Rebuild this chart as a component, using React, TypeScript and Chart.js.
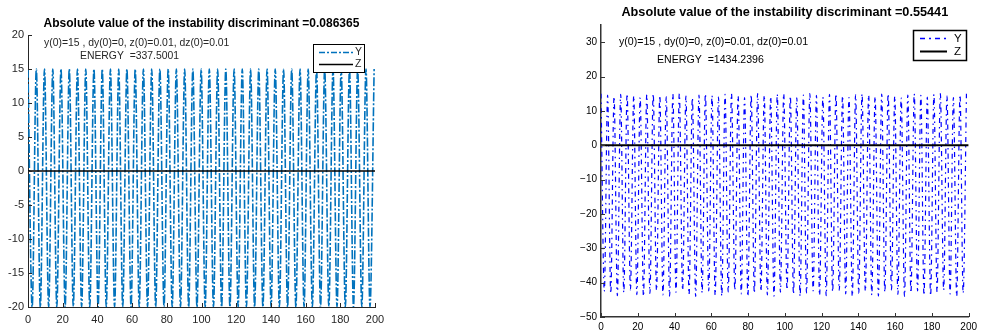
import React, { useEffect, useRef } from 'react';
import { Chart, registerables } from 'chart.js';

Chart.register(...registerables);

// ---------- data ----------
const xTickValues = [0, 20, 40, 60, 80, 100, 120, 140, 160, 180, 200];
const leftYTicks = [-20, -15, -10, -5, 0, 5, 10, 15, 20];
const rightYTicks = [-50, -40, -30, -20, -10, 0, 10, 20, 30];

// Left panel: Y(t) extrema (times of maxima / minima) and their values
const leftPeakX = [0, 4.8, 9.5, 14.3, 19, 23.8, 28.5, 33.3, 38, 42.8, 47.5, 52.3, 57, 61.8, 66.5, 71.3, 76, 80.8, 85.5, 90.3, 95, 99.8, 104.5, 109.3, 114, 118.8, 123.5, 128.3, 133, 137.8, 142.5, 147.3, 152, 156.8, 161.5, 166.3, 171, 175.8, 180.5, 185.3, 190, 194.8, 199.5];
const leftTroughX = [2.4, 7.1, 11.9, 16.6, 21.4, 26.1, 30.9, 35.6, 40.4, 45.1, 49.9, 54.6, 59.4, 64.1, 68.9, 73.6, 78.4, 83.1, 87.9, 92.6, 97.4, 102.1, 106.9, 111.6, 116.4, 121.1, 125.9, 130.6, 135.4, 140.1, 144.9, 149.6, 154.4, 159.1, 163.9, 168.6, 173.4, 178.1, 182.9, 187.6, 192.4, 197.1];
const leftPeakValue = 15;
const leftTroughValue = -20;

// Right panel: Y(t) extrema
const rightPeakX = [0, 3.6, 7.1, 10.7, 14.2, 17.8, 21.3, 24.9, 28.4, 32, 35.5, 39.1, 42.6, 46.2, 49.7, 53.3, 56.8, 60.4, 63.9, 67.5, 71, 74.6, 78.1, 81.7, 85.2, 88.8, 92.3, 95.9, 99.4, 103, 106.5, 110.1, 113.6, 117.2, 120.7, 124.3, 127.8, 131.4, 134.9, 138.5, 142, 145.6, 149.1, 152.7, 156.2, 159.8, 163.3, 166.9, 170.4, 174, 177.5, 181.1, 184.6, 188.2, 191.7, 195.3, 198.8];
const rightPeakY = [15, 14.6, 14.2, 14.8, 15, 14.4, 13.9, 14.7, 15, 14.5, 14.1, 14.9, 15, 14.3, 13.8, 14.6, 15, 14.5, 14, 14.8, 15, 14.4, 13.9, 14.7, 15, 14.6, 14.1, 14.9, 15, 14.3, 13.8, 14.6, 15, 14.5, 14, 14.8, 15, 14.4, 13.9, 14.7, 15, 14.6, 14.2, 14.9, 15, 14.3, 13.8, 14.6, 15, 14.5, 14, 14.8, 15, 14.4, 13.9, 14.7, 15];
const rightTroughX = [1.8, 5.3, 8.9, 12.4, 16, 19.5, 23.1, 26.6, 30.2, 33.7, 37.3, 40.8, 44.4, 47.9, 51.5, 55, 58.6, 62.1, 65.7, 69.2, 72.8, 76.3, 79.9, 83.4, 87, 90.5, 94.1, 97.6, 101.2, 104.7, 108.3, 111.8, 115.4, 118.9, 122.5, 126, 129.6, 133.1, 136.7, 140.2, 143.8, 147.3, 150.9, 154.4, 158, 161.5, 165.1, 168.6, 172.2, 175.7, 179.3, 182.8, 186.4, 189.9, 193.5, 197];
const rightTroughY = [-42.5, -43.2, -43.8, -42.9, -42.1, -43.5, -44, -43.1, -42.3, -43.6, -43.9, -42.8, -42.2, -43.4, -44, -43, -42.4, -43.7, -43.9, -42.7, -42.2, -43.3, -44, -43.1, -42.5, -43.6, -43.9, -42.8, -42.1, -43.4, -44, -43, -42.4, -43.7, -43.8, -42.7, -42.2, -43.3, -44, -43.1, -42.5, -43.6, -43.9, -42.8, -42.1, -43.4, -44, -43, -42.4, -43.7, -43.8, -42.7, -42.2, -43.3, -44, -43.1];

// Z(t) stays at ~0
const zX = [0, 200];
const zY = [0, 0];

const leftTitle = 'Absolute value of the instability discriminant =0.086365';
const rightTitle = 'Absolute value of the instability discriminant =0.55441';
const initText = 'y(0)=15 , dy(0)=0, z(0)=0.01, dz(0)=0.01';
const leftEnergy = 'ENERGY  =337.5001';
const rightEnergy = 'ENERGY  =1434.2396';

const FONT = '"Liberation Sans", Arial, Helvetica, sans-serif';

function merge(px: number[], py: number[], tx: number[], ty: number[]) {
  const pts: { x: number; y: number }[] = [];
  px.forEach((x, i) => pts.push({ x, y: py[i] }));
  tx.forEach((x, i) => pts.push({ x, y: ty[i] }));
  pts.sort((a, b) => a.x - b.x);
  return pts;
}

type Spec = {
  width: number;
  padLeft: number;
  padRight: number;
  padTop: number;
  yAxisWidth: number;
  xAxisHeight: number;
  yMin: number;
  yMax: number;
  yTicks: number[];
  unicodeMinus: boolean;
  tickFont: number;
  xTickPad: number;
  yTickPad: number;
  textColor: string;
  axisColor: string;
  axisWidth: number;
  yColor: string;
  yWidth: number;
  yDash: number[];
  zWidth: number;
  data: { x: number; y: number }[];
  title: string;
  titleFont: number;
  titleY: number;
  noteFont: number;
  line1: [number, number];
  line2: [number, number];
  energy: string;
  legend: { x: number; y: number; w: number; h: number; lx0: number; lx1: number; tx: number; y1: number; y2: number; lw: number; font: number; dash: number[] };
};

function overlayPlugin(spec: Spec) {
  return {
    id: 'overlay',
    afterDraw(chart: any) {
      const ctx = chart.ctx as CanvasRenderingContext2D;
      const area = chart.chartArea;
      const xs = chart.scales.x;
      const ys = chart.scales.y;
      ctx.save();
      // inward ticks
      ctx.strokeStyle = spec.axisColor;
      ctx.lineWidth = 1;
      ctx.beginPath();
      xTickValues.forEach((v) => {
        const p = Math.round(xs.getPixelForValue(v)) + 0.5;
        ctx.moveTo(p, area.bottom);
        ctx.lineTo(p, area.bottom - 4);
      });
      spec.yTicks.forEach((v) => {
        const p = Math.round(ys.getPixelForValue(v)) + 0.5;
        ctx.moveTo(area.left, p);
        ctx.lineTo(area.left + 4, p);
      });
      ctx.stroke();

      // title
      ctx.fillStyle = '#000';
      ctx.font = `bold ${spec.titleFont}px ${FONT}`;
      ctx.textAlign = 'center';
      ctx.textBaseline = 'middle';
      ctx.fillText(spec.title, (area.left + area.right) / 2, spec.titleY);

      // annotations
      ctx.fillStyle = spec.textColor;
      ctx.font = `${spec.noteFont}px ${FONT}`;
      ctx.textAlign = 'left';
      ctx.fillText(initText, spec.line1[0], spec.line1[1]);
      ctx.fillText(spec.energy, spec.line2[0], spec.line2[1]);

      // legend
      const L = spec.legend;
      ctx.fillStyle = '#fff';
      ctx.fillRect(L.x, L.y, L.w, L.h);
      ctx.strokeStyle = '#000';
      ctx.lineWidth = L.lw;
      ctx.strokeRect(L.x + 0.5, L.y + 0.5, L.w, L.h);
      ctx.beginPath();
      ctx.strokeStyle = spec.yColor;
      ctx.lineWidth = 1.5;
      ctx.setLineDash(L.dash);
      ctx.moveTo(L.lx0, L.y1 + 0.5);
      ctx.lineTo(L.lx1, L.y1 + 0.5);
      ctx.stroke();
      ctx.setLineDash([]);
      ctx.beginPath();
      ctx.strokeStyle = '#000';
      ctx.lineWidth = spec.zWidth;
      ctx.moveTo(L.lx0, L.y2 + 0.5);
      ctx.lineTo(L.lx1, L.y2 + 0.5);
      ctx.stroke();
      ctx.fillStyle = spec.textColor;
      ctx.font = `${L.font}px ${FONT}`;
      ctx.textAlign = 'left';
      ctx.fillText('Y', L.tx, L.y1 + 0.5);
      ctx.fillText('Z', L.tx, L.y2 + 0.5);
      ctx.restore();
    },
  };
}

function Panel({ spec, left }: { spec: Spec; left: number }) {
  const ref = useRef<HTMLCanvasElement>(null);
  useEffect(() => {
    const canvas = ref.current!;
    const chart = new Chart(canvas, {
      type: 'line',
      data: {
        datasets: [
          {
            label: 'Z',
            data: zX.map((x, i) => ({ x, y: zY[i] })),
            borderColor: '#000',
            borderWidth: spec.zWidth,
            pointRadius: 0,
            fill: false,
            order: 0,
          },
          {
            label: 'Y',
            data: spec.data,
            borderColor: spec.yColor,
            borderWidth: spec.yWidth,
            borderDash: spec.yDash,
            cubicInterpolationMode: 'monotone',
            pointRadius: 0,
            fill: false,
            order: 1,
          },
        ],
      },
      options: {
        animation: false,
        responsive: false,
        maintainAspectRatio: false,
        devicePixelRatio: 1,
        layout: { padding: { left: spec.padLeft, right: spec.padRight, top: spec.padTop, bottom: 0 } },
        plugins: { legend: { display: false }, title: { display: false }, tooltip: { enabled: false } },
        scales: {
          x: {
            type: 'linear',
            min: 0,
            max: 200,
            afterBuildTicks: (s: any) => {
              s.ticks = xTickValues.map((v) => ({ value: v }));
            },
            afterFit: (s: any) => {
              s.height = spec.xAxisHeight;
            },
            grid: { display: false, drawTicks: false },
            border: { display: true, color: spec.axisColor, width: spec.axisWidth },
            ticks: {
              autoSkip: false,
              maxRotation: 0,
              padding: spec.xTickPad,
              color: spec.textColor,
              font: { family: FONT, size: spec.tickFont },
              callback: (v: any) => String(v),
            },
          },
          y: {
            type: 'linear',
            min: spec.yMin,
            max: spec.yMax,
            afterBuildTicks: (s: any) => {
              s.ticks = spec.yTicks.map((v) => ({ value: v }));
            },
            afterFit: (s: any) => {
              s.width = spec.yAxisWidth;
            },
            grid: { display: false, drawTicks: false },
            border: { display: true, color: spec.axisColor, width: spec.axisWidth },
            ticks: {
              autoSkip: false,
              padding: spec.yTickPad,
              color: spec.textColor,
              font: { family: FONT, size: spec.tickFont },
              callback: (v: any) => (spec.unicodeMinus ? String(v).replace('-', '\u2212') : String(v)),
            },
          },
        },
      } as any,
      plugins: [overlayPlugin(spec)],
    });
    return () => chart.destroy();
  }, [spec]);
  return (
    <canvas
      ref={ref}
      width={spec.width}
      height={332}
      style={{ position: 'absolute', left, top: 0, width: spec.width, height: 332 }}
    />
  );
}

const leftSpec: Spec = {
  width: 490,
  padLeft: 0,
  padRight: 115,
  padTop: 35,
  yAxisWidth: 28,
  xAxisHeight: 25,
  yMin: -20,
  yMax: 20,
  yTicks: leftYTicks,
  unicodeMinus: false,
  tickFont: 11,
  xTickPad: 6,
  yTickPad: 4,
  textColor: '#262626',
  axisColor: '#262626',
  axisWidth: 1,
  yColor: '#0072BD',
  yWidth: 1.6,
  yDash: [9, 2, 2, 2],
  zWidth: 1.5,
  data: merge(
    leftPeakX,
    leftPeakX.map(() => leftPeakValue),
    leftTroughX,
    leftTroughX.map(() => leftTroughValue)
  ),
  title: leftTitle,
  titleFont: 12,
  titleY: 24,
  noteFont: 10.4,
  line1: [44, 43],
  line2: [80, 56],
  energy: leftEnergy,
  legend: { x: 313, y: 44, w: 51, h: 28, lx0: 319, lx1: 353, tx: 355, y1: 52, y2: 64, lw: 1, font: 10.5, dash: [6, 2, 2, 2] },
};

const rightSpec: Spec = {
  width: 491,
  padLeft: 81,
  padRight: 10,
  padTop: 25,
  yAxisWidth: 30,
  xAxisHeight: 15,
  yMin: -50,
  yMax: 35,
  yTicks: rightYTicks,
  unicodeMinus: true,
  tickFont: 10,
  xTickPad: 4,
  yTickPad: 4,
  textColor: '#000',
  axisColor: '#333',
  axisWidth: 1.5,
  yColor: '#0000FF',
  yWidth: 1.2,
  yDash: [5, 4, 1.5, 4],
  zWidth: 2,
  data: merge(rightPeakX, rightPeakY, rightTroughX, rightTroughY),
  title: rightTitle,
  titleFont: 12.7,
  titleY: 12,
  noteFont: 10.6,
  line1: [129, 42],
  line2: [167, 60],
  energy: rightEnergy,
  legend: { x: 423, y: 30, w: 53, h: 30, lx0: 430, lx1: 457, tx: 464, y1: 38, y2: 51, lw: 1.5, font: 11.5, dash: [5, 4, 2, 4] },
};

export default function App() {
  return (
    <div style={{ position: 'absolute', left: 0, top: 0, width: 981, height: 332, background: '#fff' }}>
      <Panel spec={leftSpec} left={0} />
      <Panel spec={rightSpec} left={490} />
    </div>
  );
}
